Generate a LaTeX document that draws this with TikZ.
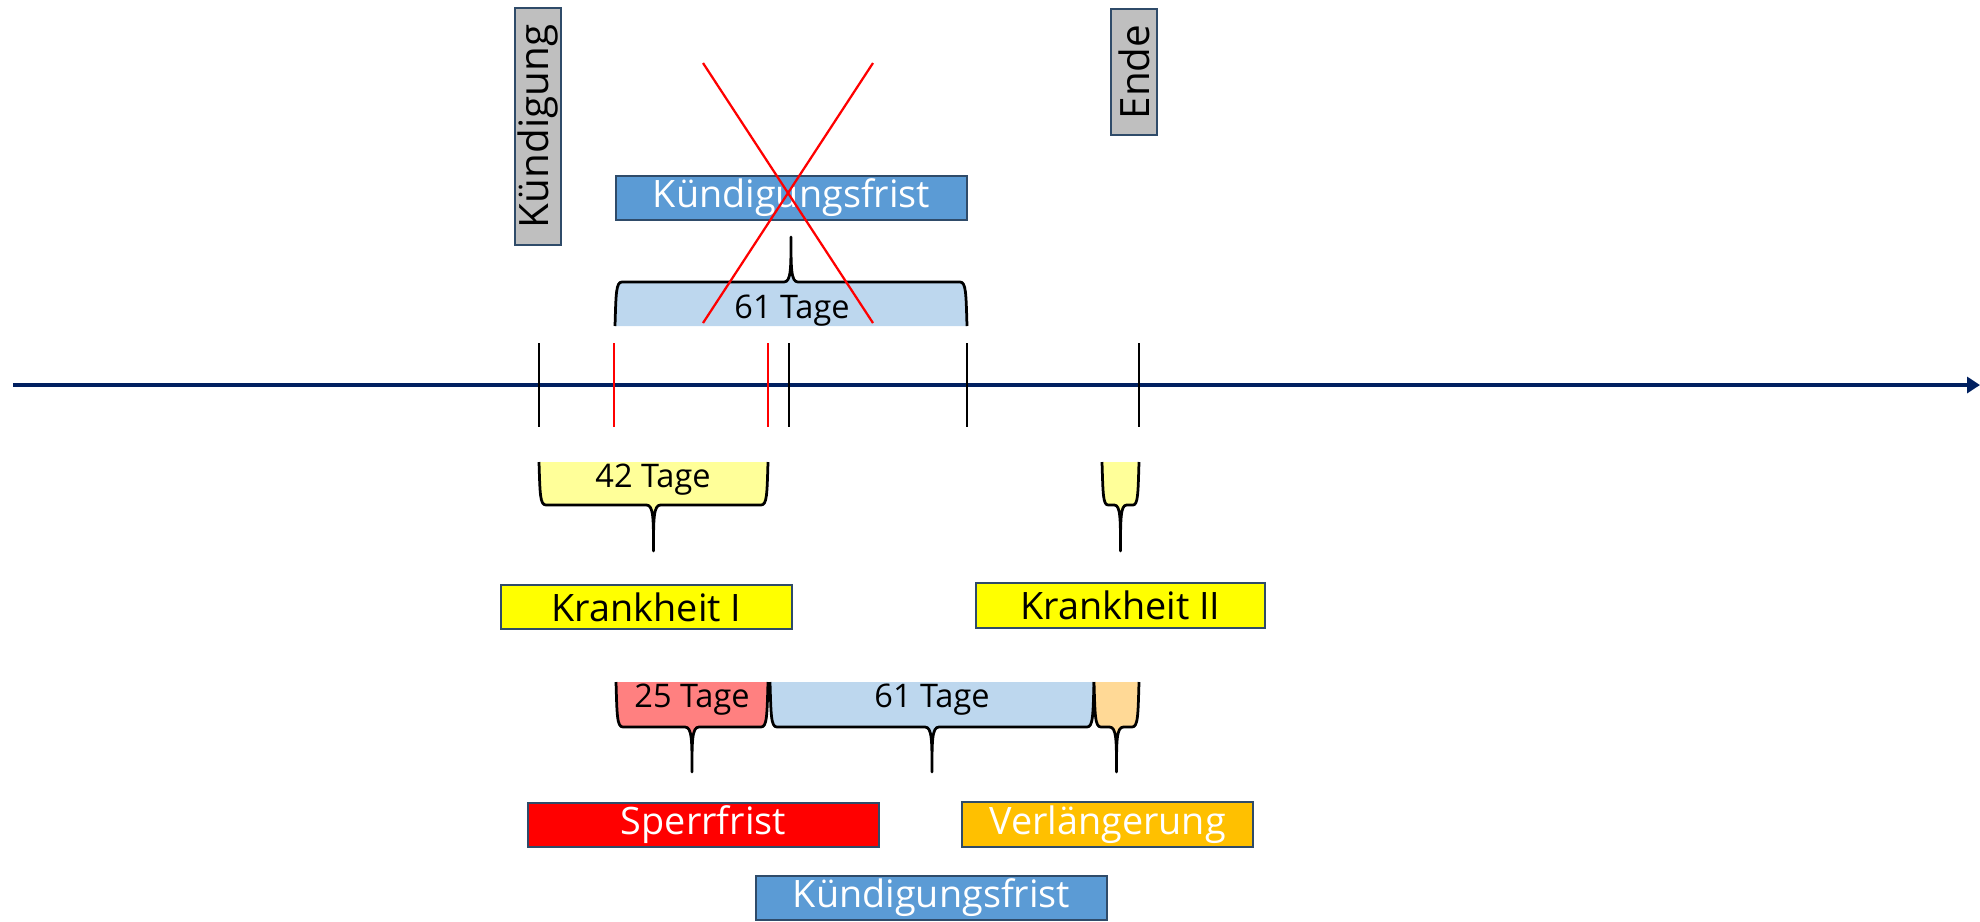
\documentclass[tikz,border=0pt]{standalone}
\usepackage{fontspec}
\setmainfont{Open Sans}
\usetikzlibrary{arrows.meta}

\definecolor{achse}{HTML}{002060}
\definecolor{rahmen}{HTML}{2F4B69}
\definecolor{grau}{HTML}{BFBFBF}
\definecolor{fristblau}{HTML}{5B9BD5}
\definecolor{hellblau}{HTML}{BDD7EE}
\definecolor{hellgelb}{HTML}{FFFF99}
\definecolor{gelb}{HTML}{FFFF00}
\definecolor{lachs}{HTML}{FF8080}
\definecolor{rot}{HTML}{FF0000}
\definecolor{hellorange}{HTML}{FFD996}
\definecolor{orange}{HTML}{FFC000}

\tikzset{
  box/.style={draw=rahmen, line width=0.05cm, inner sep=0pt,
    minimum height=0.88cm, font=\fontsize{21.5}{24}\selectfont},
  zeitachse/.style={achse, line width=0.07cm, -{Triangle[length=0.26cm,width=0.32cm]}},
  strich/.style={line width=0.05cm},
  klammer/.style={line width=0.055cm, line join=round},
  tage/.style={font=\fontsize{18.5}{20}\selectfont}
}

% brace from x1 to x2: end at yA, bar at yB, tip at yC, filled with #6
\newcommand{\zeitklammer}[6]{%
  \pgfmathsetmacro{\kxm}{(#1+#2)/2}
  \pgfmathsetmacro{\kys}{#4+0.25*(#3-#4)}
  \pgfmathsetmacro{\kyt}{#4+0.3*(#5-#4)}
  \pgfmathsetmacro{\kr}{min(7,(#2-#1)/6)}
  \fill[#6] (#1,#3) .. controls ({#1+1},\kys) and ({#1+1},#4) .. ({#1+\kr},#4)
    -- ({\kxm-\kr},#4) .. controls (\kxm,#4) and (\kxm,\kyt) .. (\kxm,#5)
    .. controls (\kxm,\kyt) and (\kxm,#4) .. ({\kxm+\kr},#4)
    -- ({#2-\kr},#4) .. controls ({#2-1},#4) and ({#2-1},\kys) .. (#2,#3) -- cycle;
  \draw[klammer] (#1,#3) .. controls ({#1+1},\kys) and ({#1+1},#4) .. ({#1+\kr},#4)
    -- ({\kxm-\kr},#4) .. controls (\kxm,#4) and (\kxm,\kyt) .. (\kxm,#5)
    .. controls (\kxm,\kyt) and (\kxm,#4) .. ({\kxm+\kr},#4)
    -- ({#2-\kr},#4) .. controls ({#2-1},#4) and ({#2-1},\kys) .. (#2,#3);
}

\begin{document}
\begin{tikzpicture}[x=0.02cm, y=-0.02cm]
\useasboundingbox (0,0) rectangle (1980,921);

% time axis
\coordinate (links) at (13,385);
\coordinate (rechts) at (1980,385);
\draw[zeitachse] (links) -- (rechts);
\foreach \x/\c in {539/black, 614/rot, 768/rot, 789/black, 967/black, 1139/black}
  \draw[strich, \c] (\x,343) -- (\x,427);

% top: original notice period
\node[box, fill=grau, rotate=90, minimum width=4.74cm, minimum height=0.92cm, font=\fontsize{23}{26}\selectfont] (kuendigung) at (538,126.5) {Kündigung};
\node[box, fill=grau, rotate=90, minimum width=2.52cm, minimum height=0.92cm, font=\fontsize{23}{26}\selectfont] (ende) at (1134,72) {Ende};
\node[box, fill=fristblau, text=white, minimum width=7.02cm] (frist1) at (791.5,198) {Kündigungsfrist};
\zeitklammer{615}{967}{326}{282}{237}{hellblau}
\node[tage] (tage61a) at (792,311) {61 Tage};
\coordinate (xa) at (703,63);
\coordinate (xb) at (873,63);
\coordinate (xc) at (703,323);
\coordinate (xd) at (873,323);
\draw[rot, line width=0.045cm] (xa) -- (xd);
\draw[rot, line width=0.045cm] (xb) -- (xc);

% illnesses
\zeitklammer{539}{768}{462}{505}{551}{hellgelb}
\node[tage] (tage42) at (653,480) {42 Tage};
\zeitklammer{1102}{1139}{462}{505}{551}{hellgelb}
\node[box, fill=gelb, minimum width=5.82cm] (krank1) at (646.5,607) {Krankheit I};
\node[box, fill=gelb, minimum width=5.78cm, minimum height=0.9cm] (krank2) at (1120.5,605.5) {Krankheit II};

% resulting periods
\zeitklammer{616}{768}{682}{727}{772}{lachs}
\node[tage] (tage25) at (692,700) {25 Tage};
\zeitklammer{770}{1094}{682}{727}{772}{hellblau}
\node[tage] (tage61b) at (932,700) {61 Tage};
\zeitklammer{1094}{1139}{682}{727}{772}{hellorange}

\node[box, fill=rot, text=white, minimum width=7.02cm] (sperr) at (703.5,825) {Sperrfrist};
\node[box, fill=orange, text=white, minimum width=5.82cm, minimum height=0.9cm] (verl) at (1107.5,824.5) {Verlängerung};
\node[box, fill=fristblau, text=white, minimum width=7.02cm] (frist2) at (931.5,898) {Kündigungsfrist};
\end{tikzpicture}
\end{document}
